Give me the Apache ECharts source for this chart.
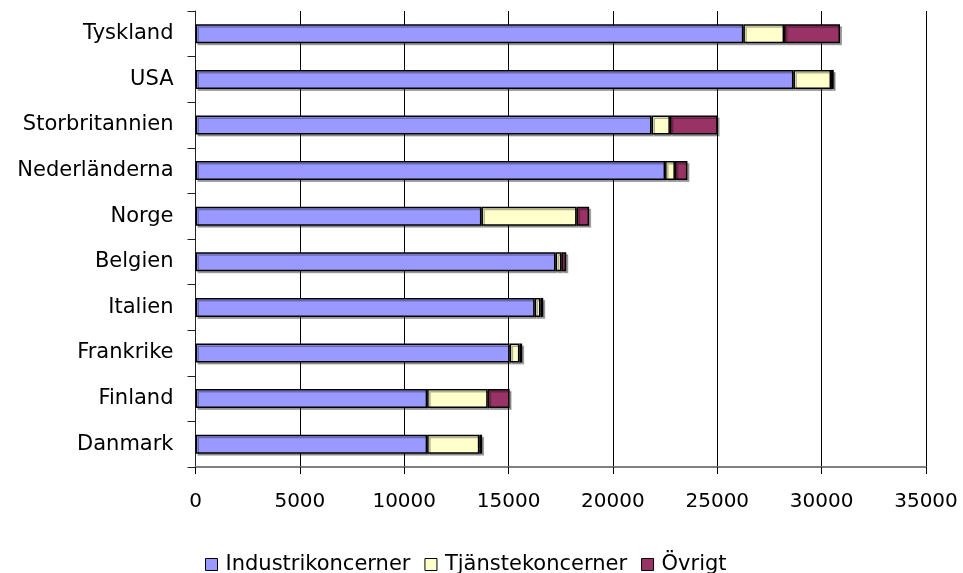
<!DOCTYPE html>
<html>
<head>
<meta charset="utf-8">
<script src="https://cdn.jsdelivr.net/npm/echarts@6/dist/echarts.min.js"></script>
<style>html,body{margin:0;padding:0;background:#fff}#c{width:963px;height:573px}</style>
</head>
<body>
<div id="c"></div>
<script>
const categories = ['Tyskland','USA','Storbritannien','Nederländerna','Norge','Belgien','Italien','Frankrike','Finland','Danmark'];
const industri = [26250, 28650, 21850, 22500, 13700, 17250, 16250, 15050, 11100, 11100];
const tjanste  = [1950, 1800, 880, 470, 4560, 280, 280, 470, 2900, 2500];
const ovrigt   = [2680, 130, 2290, 600, 600, 235, 130, 130, 1050, 130];
const xTicks = [0, 5000, 10000, 15000, 20000, 25000, 30000, 35000];

const font = 'DejaVu Sans';
const chart = echarts.init(document.getElementById('c'), null, {renderer: 'canvas'});
function s(name, data, color) {
  return {
    name: name, type: 'bar', stack: 'total', data: data,
    barWidth: 19,
    itemStyle: {color: color, borderColor: '#000', borderWidth: 1.5,
      shadowColor: 'rgba(0,0,0,0.3)', shadowOffsetX: 2, shadowOffsetY: 2, shadowBlur: 0},
    emphasis: {disabled: true}
  };
}
chart.setOption({
  animation: false,
  backgroundColor: '#fff',
  grid: {left: 195.5, right: 37, top: 11, bottom: 106, containLabel: false},
  xAxis: {
    type: 'value', min: xTicks[0], max: xTicks[xTicks.length - 1], interval: 5000,
    axisLine: {show: true, lineStyle: {color: '#808080', width: 2}},
    axisTick: {show: true, length: 7, lineStyle: {color: '#000', width: 1}},
    axisLabel: {margin: 25, color: '#000', fontFamily: font, fontSize: 20,
      formatter: function (v) { return String(v); }},
    splitLine: {show: true, lineStyle: {color: '#000', width: 1}}
  },
  yAxis: {
    type: 'category', data: categories, inverse: true,
    axisLine: {show: true, lineStyle: {color: '#222', width: 1}},
    axisTick: {show: true, length: 8, lineStyle: {color: '#222'}},
    axisLabel: {margin: 22, color: '#000', fontFamily: font, fontSize: 21},
    splitLine: {show: false}
  },
  legend: {
    left: 200, top: 549, itemWidth: 12, itemHeight: 12, itemGap: 14,
    icon: 'rect',
    textStyle: {color: '#000', fontFamily: font, fontSize: 21, padding: [0, 0, 0, 3]},
    itemStyle: {borderColor: '#000', borderWidth: 1, shadowBlur: 0, shadowOffsetX: 0, shadowOffsetY: 0}
  },
  series: [
    s('Industrikoncerner', industri, '#9999FF'),
    s('Tjänstekoncerner', tjanste, '#FFFFCC'),
    s('Övrigt', ovrigt, '#993366')
  ]
});
</script>
</body>
</html>
